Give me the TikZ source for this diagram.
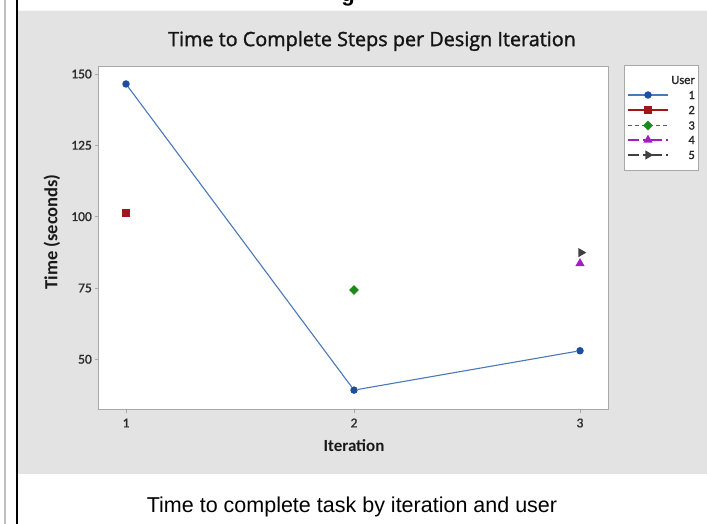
\documentclass[tikz,border=0pt]{standalone}
\usepackage{fontspec}
\setmainfont{Liberation Sans}
\newfontfamily\titlefont[FakeBold=1.4]{Open Sans}
\newfontfamily\axisfont{Carlito}
\newfontfamily\tickfont[FakeBold=1.2]{Carlito}
\usetikzlibrary{shapes.geometric}

\definecolor{panelgray}{HTML}{E3E3E3}
\definecolor{framegray}{HTML}{A8A8A8}
\definecolor{ticktext}{HTML}{2A2A2A}
\definecolor{uone}{HTML}{1D4F9E}
\definecolor{uoneline}{HTML}{4B78B6}
\definecolor{utwo}{HTML}{A3141B}
\definecolor{uthree}{HTML}{1B8A1B}
\definecolor{ufour}{HTML}{A41FBF}
\definecolor{ufive}{HTML}{404040}

\tikzset{
  circmark/.style={circle, fill=uone, inner sep=0pt, minimum size=7.5pt},
  sqmark/.style={rectangle, fill=utwo, inner sep=0pt, minimum size=8pt},
  diamark/.style={diamond, fill=uthree, inner sep=0pt, minimum size=10pt},
  upmark/.style={isosceles triangle, shape border rotate=90, isosceles triangle apex angle=60,
                 fill=ufour, inner sep=0pt, minimum height=8pt},
  rightmark/.style={isosceles triangle, isosceles triangle apex angle=60,
                 fill=ufive, inner sep=0pt, minimum height=8pt},
  ticklab/.style={font=\tickfont\fontsize{13.5}{13.5}\selectfont, text=ticktext, inner sep=0pt},
  leglab/.style={font=\tickfont\fontsize{12.5}{12.5}\selectfont, text=black!85, inner sep=0pt, anchor=east},
  tickmark/.style={framegray, line width=0.8pt},
  % legend line types
  solidtype/.style={solid},
  dashtype/.style={dash pattern=on 4pt off 3pt},
  longshorttype/.style={dash pattern=on 11pt off 4pt on 4pt off 4pt},
}

\begin{document}
\begin{tikzpicture}[x=1pt, y=-1pt]
\useasboundingbox (0,0) rectangle (707,524);
\clip (0,0) rectangle (707,524);
\fill[white] (0,0) rectangle (707,524);

% bottom of the heading above the chart
\node[font=\bfseries\fontsize{22}{22}\selectfont, anchor=base, inner sep=0pt] (head) at (348,1.5) {g};

% page rules on the left
\draw[black!25, line width=2.5pt] (5,0) -- (5,524);
\draw[black, line width=1.2pt] (17,0) -- (17,524);

% chart panel
\fill[panelgray] (17.6,10) rectangle (707,474);
\draw[white!70!panelgray, line width=1pt] (17.6,10.5) -- (707,10.5);

% title
\node[font=\titlefont\fontsize{19.8}{19.8}\selectfont, text=black!92] (title) at (372,41)
  {Time to Complete Steps per Design Iteration};

% plot area
\draw[framegray, fill=white, line width=1pt] (98,67) rectangle (608,409);

% y axis
\foreach \v/\nm in {150/a,125/b,100/c,75/d,50/e} {
  \coordinate (yt\nm) at (98,{74+(150-\v)*2.853});
  \draw[tickmark] (yt\nm) -- ++(-3.5,0);
  \node[ticklab, anchor=east] (yl\nm) at ([xshift=-6pt]yt\nm) {\v};
}
\node[font=\axisfont\bfseries\fontsize{18.5}{18.5}\selectfont, rotate=90, text=black!90] (ylab) at (52,232)
  {Time (seconds)};

% x axis
\foreach \i/\xx in {1/126,2/354,3/580} {
  \coordinate (xt\i) at (\xx,409);
  \draw[tickmark] (xt\i) -- ++(0,3.5);
  \node[ticklab] (xl\i) at (\xx,423) {\i};
}
\node[font=\axisfont\bfseries\fontsize{17}{17}\selectfont, text=black!90] (xlab) at (354,445.5) {Iteration};

% data: user 1
\node[circmark] (pa) at (126,{74+(150-146.5)*2.853}) {};
\node[circmark] (pb) at (354,{74+(150-39.2)*2.853}) {};
\node[circmark] (pc) at (580,{74+(150-53.0)*2.853}) {};
\draw[uoneline, line width=1.1pt] (pa) -- (pb) -- (pc);
% users 2 to 5
\node[sqmark] (qa) at (126,{74+(150-101.4)*2.853}) {};
\node[diamark] (ra) at (354,{74+(150-74.3)*2.853}) {};
\node[upmark] (sa) at (580,{74+(150-83.6)*2.853}) {};
\node[rightmark] (ta) at (581,{74+(150-87.4)*2.853}) {};

% legend
\draw[framegray, fill=white, line width=0.8pt] (624,65) rectangle (698,170);
\node[leglab] (lgtitle) at (695,80) {User};
\foreach \k/\yy/\col/\lsty/\mk in {
    1/95/uoneline/solidtype/circmark,
    2/110/utwo/solidtype/sqmark,
    3/125.5/uthree/dashtype/diamark,
    4/140/ufour/longshorttype/upmark,
    5/155/ufive/longshorttype/rightmark} {
  \coordinate (la\k) at (628,\yy);
  \coordinate (lb\k) at (668,\yy);
  \draw[draw=\col, \lsty, line width=1.2pt] (la\k) -- (lb\k);
  \node[\mk] (lm\k) at (648,\yy) {};
  \node[leglab] (ln\k) at (695,\yy) {\k};
}

% caption
\node[font=\fontsize{21.5}{21.5}\selectfont] (caption) at (352,507)
  {Time to complete task by iteration and user};
\end{tikzpicture}
\end{document}
